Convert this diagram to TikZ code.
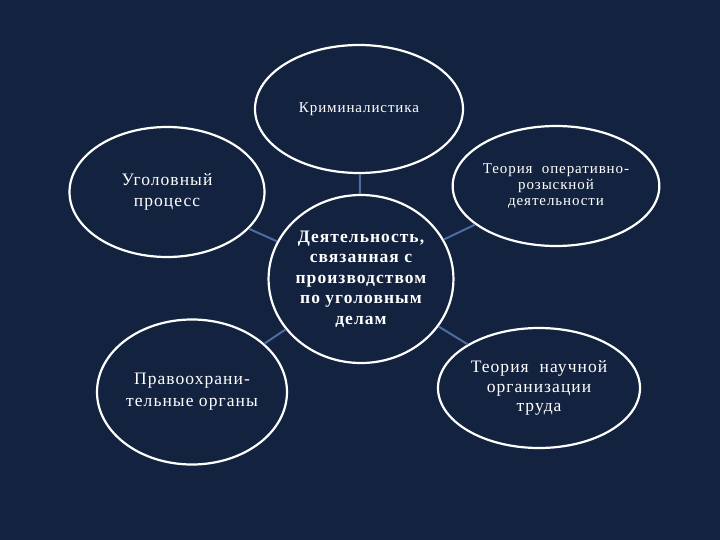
\documentclass[tikz,border=0pt]{standalone}
\usepackage{fontspec}
\setmainfont[LetterSpace=6]{Liberation Serif}
\usetikzlibrary{shapes.geometric}
\definecolor{bg}{HTML}{13233F}
\definecolor{link}{HTML}{4C6CA3}
\tikzset{
  oval/.style={ellipse, draw=white, line width=2.2pt, inner sep=0pt, text=white, align=center},
  link/.style={draw=link, line width=2pt},
}
\begin{document}
\begin{tikzpicture}[x=1pt,y=-1pt]
\fill[bg] (0,0) rectangle (720,540);
\useasboundingbox (0,0) rectangle (720,540);
\node[oval, minimum width=208pt, minimum height=128pt, font=\fontsize{15}{17}\selectfont] (krim) at (359,109) {Криминалистика};
\node[oval, minimum width=195pt, minimum height=130pt, font=\fontsize{17.5}{21}\selectfont] (ugol) at (167,192) {Уголовный\\процесс};
\node[oval, minimum width=203pt, minimum height=120pt, font=\fontsize{15}{16}\selectfont] (ord) at (556,186) {Теория\ \ оперативно-\\розыскной\\деятельности};
\node[oval, minimum width=184pt, minimum height=168pt, font=\bfseries\fontsize{17.5}{20.5}\selectfont] (center) at (361,279) {Деятельность,\\связанная с\\производством\\по уголовным\\делам};
\node[oval, minimum width=190pt, minimum height=145pt, font=\fontsize{17.5}{22}\selectfont] (pravo) at (192,392) {Правоохрани-\\тельные органы};
\node[oval, minimum width=202pt, minimum height=120pt, font=\fontsize{17.5}{19.5}\selectfont] (not) at (539,388) {Теория\ \ научной\\организации\\труда};
\draw[link] (center) -- (krim);
\draw[link] (center) -- (ugol);
\draw[link] (center) -- (ord);
\draw[link] (center) -- (pravo);
\draw[link] (center) -- (not);
\end{tikzpicture}
\end{document}
